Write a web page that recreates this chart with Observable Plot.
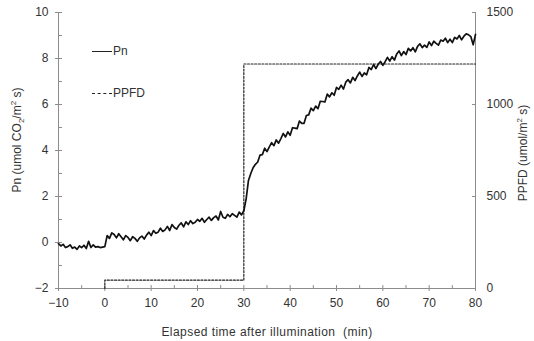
<!DOCTYPE html>
<html>
<head>
<meta charset="utf-8">
<script src="https://cdn.jsdelivr.net/npm/d3@7"></script>
<script src="https://cdn.jsdelivr.net/npm/@observablehq/plot@0.6"></script>
<style>
  html, body { margin: 0; padding: 0; background: #fff; }
  #wrap { position: relative; width: 534px; height: 341px; font-family: "Liberation Sans", Arial, sans-serif; color: #333; }
  .ttl { position: absolute; font-size: 12px; white-space: pre; line-height: 1; }
  .rot { transform: translate(-50%, -50%) rotate(-90deg); }
  .hc { transform: translate(-50%, -50%); letter-spacing: 0.45px; }
  sub, sup { font-size: 8px; line-height: 0; }
  .leg { position: absolute; font-size: 12px; display: flex; align-items: center; }
  .leg span.ln { display: inline-block; width: 20px; height: 0; margin-right: 1px; }
</style>
</head>
<body>
<div id="wrap"></div>
<script>
// ---- data ----
const tStart = -10, tStep = 0.5;
const pnValues = [
  -0.05,-0.15,-0.08,-0.22,-0.18,-0.10,-0.25,-0.20,-0.30,-0.15,-0.22,-0.12,-0.26,0.05,-0.22,-0.10,-0.20,-0.18,-0.22,-0.20,-0.18,
  0.30,0.18,0.42,0.35,0.20,0.38,0.25,0.12,0.30,0.22,0.08,0.25,0.18,0.05,0.20,0.28,0.15,0.32,0.45,0.30,
  0.52,0.40,0.45,0.62,0.48,0.55,0.70,0.52,0.78,0.65,0.58,0.75,0.85,0.68,0.90,0.78,0.95,0.82,0.88,1.00,
  0.92,1.05,0.88,1.00,1.10,0.96,1.08,1.15,0.98,1.35,1.10,1.05,1.22,1.12,1.25,1.18,1.10,1.32,1.20,1.38,
  1.90,2.70,3.00,3.25,3.40,
  3.50,3.80,3.82,4.10,3.95,4.16,4.34,4.21,4.46,4.32,4.52,4.74,4.59,4.81,4.66,4.99,4.97,4.95,5.28,5.18,
  5.18,5.52,5.55,5.84,5.73,5.93,5.82,6.14,6.13,6.11,6.45,6.33,6.51,6.40,6.74,6.66,6.84,6.67,6.97,7.08,
  6.94,7.18,7.04,7.24,7.41,7.22,7.37,7.29,7.61,7.52,7.74,7.56,7.75,7.87,7.70,7.86,8.05,7.89,8.08,7.93,
  8.20,8.33,8.13,8.30,8.17,8.44,8.33,8.47,8.29,8.53,8.64,8.47,8.58,8.48,8.72,8.56,8.75,8.66,8.58,8.80,
  8.75,8.88,8.69,8.84,8.69,8.92,8.85,9.00,8.81,8.97,9.07,9.03,8.95,8.60,9.05
];
const ppfdTime  = [0, 0, 30, 30, 80];
const ppfdValue = [0, 45, 45, 1220, 1220];
const xMajorTicks = [-10, 0, 10, 20, 30, 40, 50, 60, 70, 80];
const xMinorTicks = [-5, 5, 15, 25, 35, 45, 55, 65, 75];
const yMajorTicks = [-2, 0, 2, 4, 6, 8, 10];
const yMinorTicks = [-1, 1, 3, 5, 7, 9];
const ppfdTicks = [0, 500, 1000, 1500];
const pnDomain = [-2, 10];
const ppfdDomain = [0, 1500];
const xDomain = [-10, 80];

// ---- build ----
const pnData = pnValues.map((v, i) => ({t: tStart + i * tStep, pn: v}));
const ppfdToPn = d3.scaleLinear().domain(ppfdDomain).range(pnDomain);
const ppfdData = ppfdTime.map((t, i) => ({t, y: ppfdToPn(ppfdValue[i])}));
const axisGray = "#8c8c8c";

const chart = Plot.plot({
  width: 534,
  height: 341,
  marginLeft: 58,
  marginRight: 59,
  marginTop: 12,
  marginBottom: 53,
  style: {fontFamily: "'Liberation Sans', Arial, sans-serif", fontSize: "12px", color: "#333", background: "#fff"},
  x: {domain: xDomain, label: null},
  y: {domain: pnDomain, label: null},
  marks: [
    Plot.ruleX([xDomain[0]], {stroke: axisGray}),
    Plot.ruleX([xDomain[1]], {stroke: axisGray}),
    Plot.ruleY([pnDomain[0]], {stroke: axisGray}),
    // left axis
    Plot.axisY({anchor: "left", ticks: yMajorTicks, tickSize: 7, dx: 4, tickFormat: () => "", stroke: axisGray, label: null}),
    Plot.axisY({anchor: "left", ticks: yMinorTicks, tickSize: 4, dx: 4, tickFormat: () => "", stroke: axisGray, label: null}),
    Plot.axisY({anchor: "left", ticks: yMajorTicks, tickSize: 0, tickPadding: 10, label: null, fill: "#333"}),
    // right axis
    Plot.axisY({anchor: "right", ticks: ppfdTicks.map(ppfdToPn), tickSize: 4, dx: -4, tickFormat: () => "", stroke: axisGray, label: null}),
    Plot.axisY({anchor: "right", ticks: ppfdTicks.map(ppfdToPn), tickSize: 0, tickPadding: 11, tickFormat: d => String(Math.round(ppfdToPn.invert(d))), label: null, fill: "#333"}),
    // bottom axis
    Plot.axisX({anchor: "bottom", ticks: xMajorTicks, tickSize: 6, dy: -3, tickFormat: () => "", stroke: axisGray, label: null}),
    Plot.axisX({anchor: "bottom", ticks: xMinorTicks, tickSize: 3, dy: -3, tickFormat: () => "", stroke: axisGray, label: null}),
    Plot.axisX({anchor: "bottom", ticks: xMajorTicks, tickSize: 0, tickPadding: 10, label: null, fill: "#333"}),
    // data
    Plot.line(ppfdData, {x: "t", y: "y", stroke: "#222", strokeWidth: 1.2, strokeDasharray: "2,1.6"}),
    Plot.line(pnData, {x: "t", y: "pn", stroke: "#111", strokeWidth: 1.7, strokeLinejoin: "round"})
  ]
});

const wrap = document.getElementById("wrap");
wrap.appendChild(chart);
wrap.insertAdjacentHTML("beforeend", `
  <div class="ttl rot" style="left:17px; top:140px;">Pn (umol CO<sub>2</sub>/m<sup>2</sup> s)</div>
  <div class="ttl rot" style="left:523px; top:153px;">PPFD (umol/m<sup>2</sup> s)</div>
  <div class="ttl hc" style="left:267px; top:332px;">Elapsed time after illumination  (min)</div>
  <div class="leg" style="left:92px; top:44px;"><span class="ln" style="border-top:1.5px solid #222;"></span>Pn</div>
  <div class="leg" style="left:92px; top:86px;"><span class="ln" style="border-top:1.3px dashed #222;"></span>PPFD</div>
`);
</script>
</body>
</html>
